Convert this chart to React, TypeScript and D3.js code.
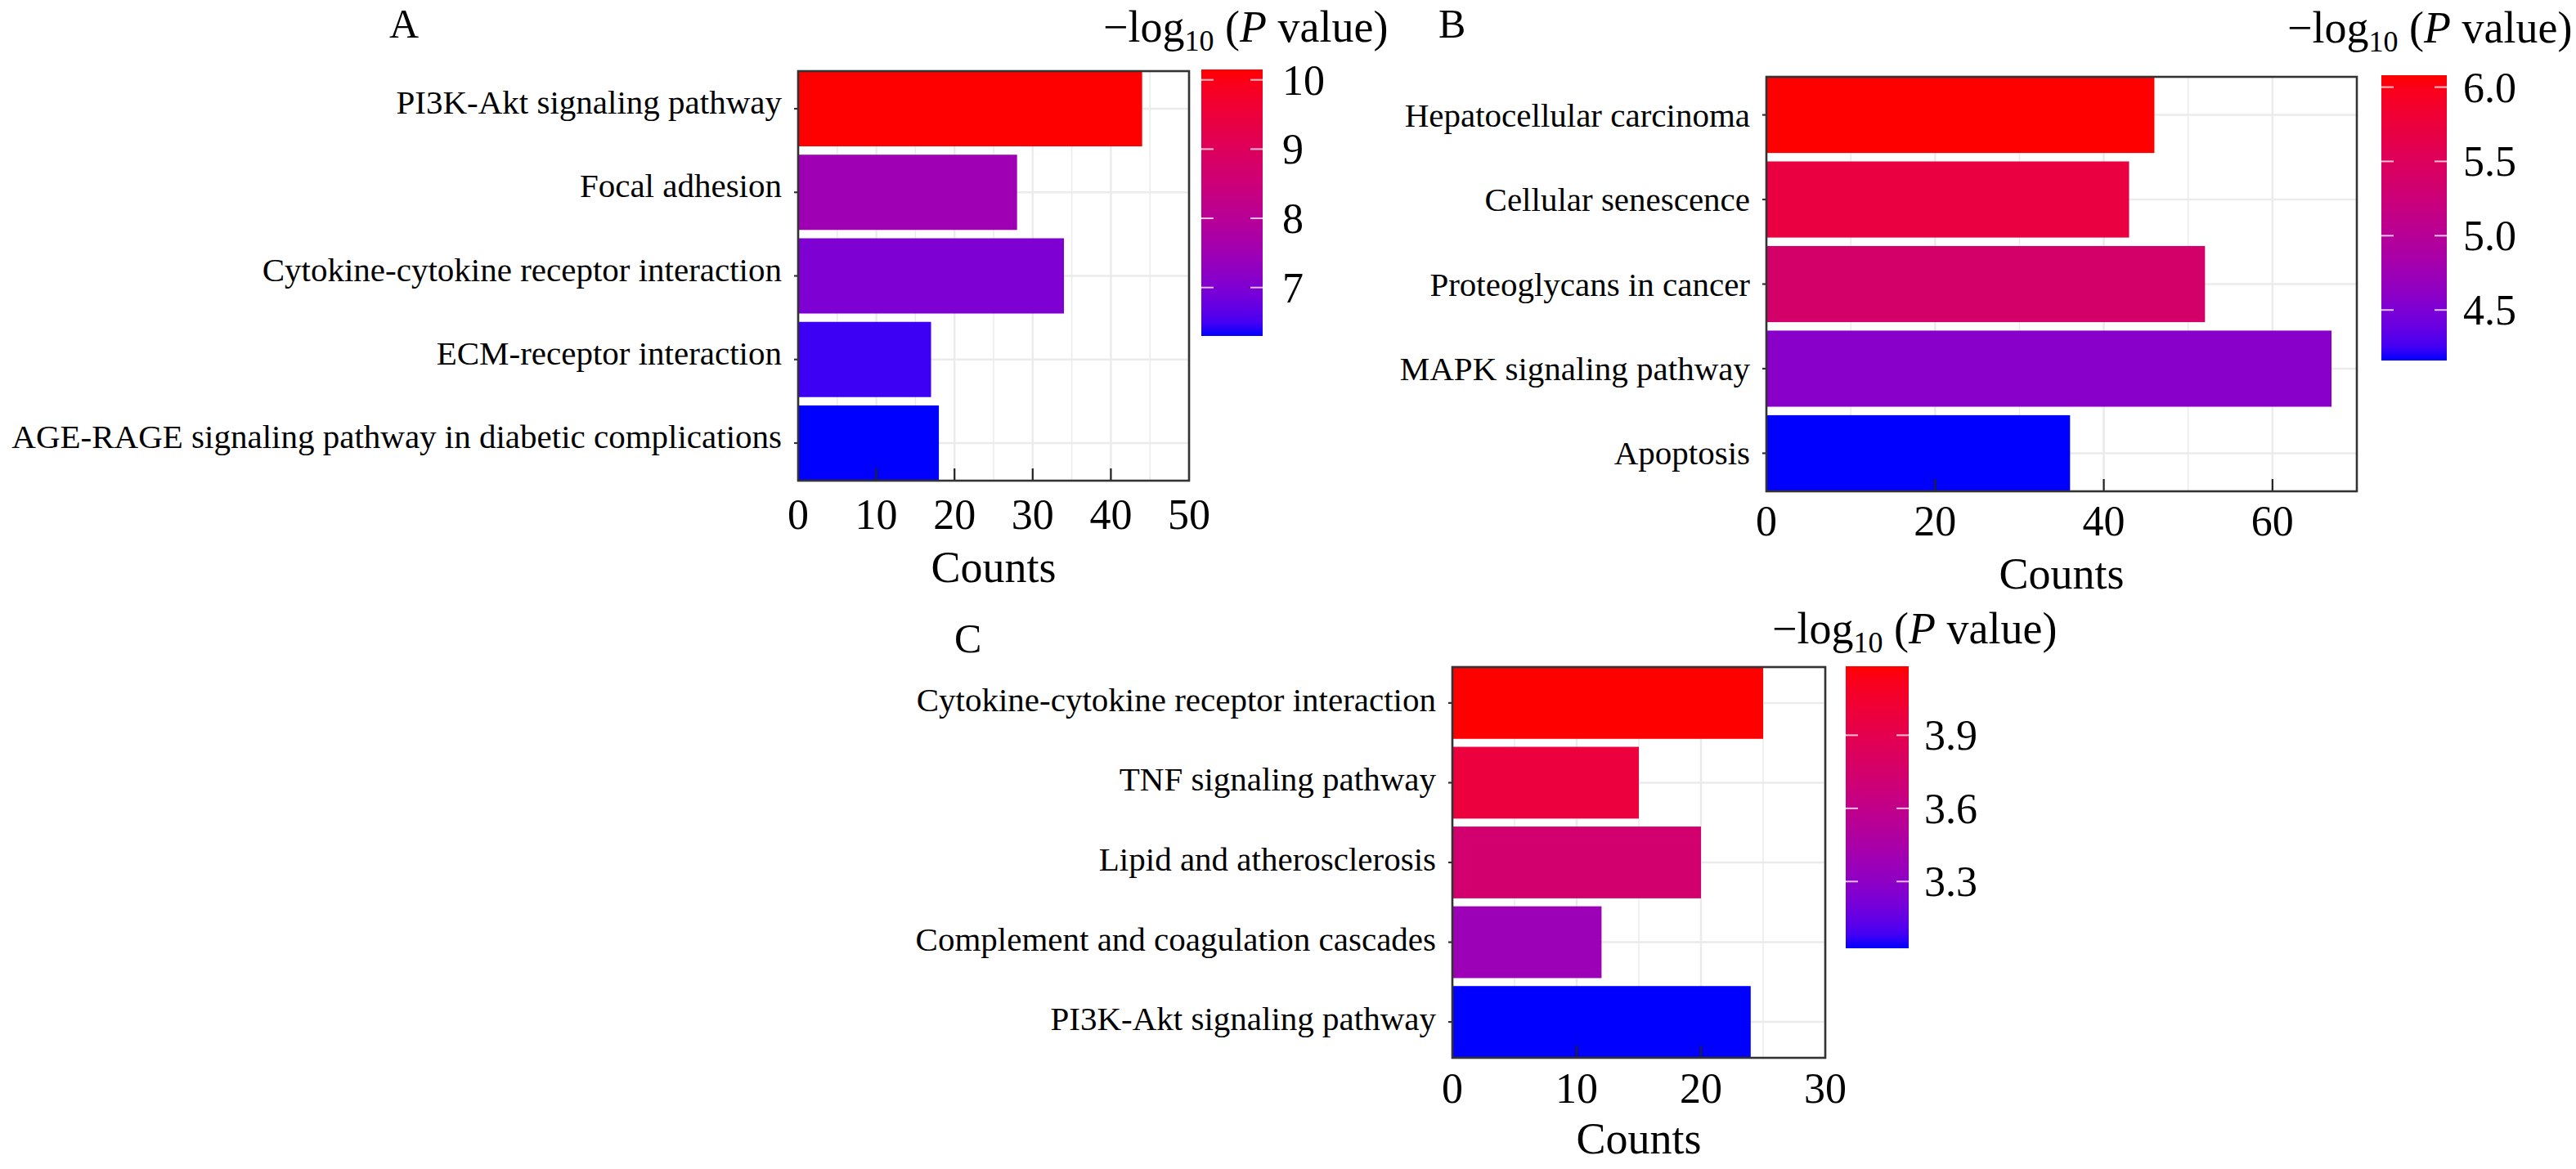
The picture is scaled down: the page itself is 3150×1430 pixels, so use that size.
import React from 'react';
import * as d3 from 'd3';

// Panel A
const catsA = [
  'PI3K-Akt signaling pathway',
  'Focal adhesion',
  'Cytokine-cytokine receptor interaction',
  'ECM-receptor interaction',
  'AGE-RAGE signaling pathway in diabetic complications',
];
const countsA = [44, 28, 34, 17, 18];
const logpA = [10.15, 7.5, 7.0, 6.45, 6.3];
const xTicksA = [0, 10, 20, 30, 40, 50];
const legendTicksA = [7, 8, 9, 10];

// Panel B
const catsB = [
  'Hepatocellular carcinoma',
  'Cellular senescence',
  'Proteoglycans in cancer',
  'MAPK signaling pathway',
  'Apoptosis',
];
const countsB = [46, 43, 52, 67, 36];
const logpB = [6.08, 5.72, 5.38, 4.58, 4.16];
const xTicksB = [0, 20, 40, 60];
const legendTicksB = [4.5, 5.0, 5.5, 6.0];

// Panel C
const catsC = [
  'Cytokine-cytokine receptor interaction',
  'TNF signaling pathway',
  'Lipid and atherosclerosis',
  'Complement and coagulation cascades',
  'PI3K-Akt signaling pathway',
];
const countsC = [25, 15, 20, 12, 24];
const logpC = [4.183, 3.98, 3.74, 3.37, 3.026];
const xTicksC = [0, 10, 20, 30];
const legendTicksC = [3.3, 3.6, 3.9];

const FONT = "'Liberation Serif', 'Times New Roman', serif";

interface Layout {
  id: string;
  letter: string;
  letterX: number;
  letterY: number;
  left: number;
  right: number;
  top: number;
  bottom: number;
  xMax: number;
  labelDy: number;
  tickBase: number;
  countsBase: number;
  lgX0: number;
  lgX1: number;
  lgY0: number;
  lgY1: number;
  lgLabelX: number;
  titleX: number;
  titleY: number;
  fmt: (v: number) => string;
}

interface PanelProps {
  layout: Layout;
  cats: string[];
  counts: number[];
  logp: number[];
  xTicks: number[];
  legendTicks: number[];
}

const Panel: React.FC<PanelProps> = ({ layout: L, cats, counts, logp, xTicks, legendTicks }) => {
  const x = d3.scaleLinear().domain([0, L.xMax]).range([L.left, L.right]);
  const y = d3.scaleBand<string>().domain(cats).range([L.top, L.bottom]).paddingInner(0.1).paddingOuter(0);
  const ext = d3.extent(logp) as [number, number];
  const color = d3.scaleLinear<string>().domain(ext).range(['blue', 'red']).interpolate(d3.interpolateLab);
  const ly = d3.scaleLinear().domain(ext).range([L.lgY1, L.lgY0]);

  const step = xTicks[1] - xTicks[0];
  const minor = xTicks.map((t) => t + step / 2).filter((t) => t < L.xMax);
  const stops = d3.range(0, 1.0001, 0.05);
  const gradId = `grad-${L.id}`;
  const mid = (c: string) => y(c)! + y.bandwidth() / 2;

  return (
    <g>
      <defs>
        <linearGradient id={gradId} x1="0" y1="1" x2="0" y2="0">
          {stops.map((s) => (
            <stop key={s} offset={s} stopColor={color(ext[0] + s * (ext[1] - ext[0]))} />
          ))}
        </linearGradient>
      </defs>

      {/* panel letter */}
      <text x={L.letterX} y={L.letterY} fontSize={50} fontFamily={FONT}>{L.letter}</text>

      {/* panel background + grid */}
      <rect x={L.left} y={L.top} width={L.right - L.left} height={L.bottom - L.top} fill="#fff" />
      {minor.map((t) => (
        <line key={`mn${t}`} x1={x(t)} x2={x(t)} y1={L.top} y2={L.bottom} stroke="#ebebeb" strokeWidth={1.5} />
      ))}
      {xTicks.map((t) => (
        <line key={`mj${t}`} x1={x(t)} x2={x(t)} y1={L.top} y2={L.bottom} stroke="#ebebeb" strokeWidth={2.5} />
      ))}
      {cats.map((c) => (
        <line key={`hg${c}`} x1={L.left} x2={L.right} y1={mid(c)} y2={mid(c)} stroke="#ebebeb" strokeWidth={2.5} />
      ))}

      {/* bars */}
      {cats.map((c, i) => (
        <rect key={`b${c}`} x={x(0)} y={y(c)} width={x(counts[i]) - x(0)} height={y.bandwidth()} fill={color(logp[i])} />
      ))}

      {/* x ticks (inside) */}
      {xTicks.filter((t) => t > 0 && t < L.xMax).map((t) => (
        <line key={`xt${t}`} x1={x(t)} x2={x(t)} y1={L.bottom} y2={L.bottom - 15} stroke="#222" strokeWidth={2.2} />
      ))}

      {/* y ticks */}
      {cats.map((c) => (
        <line key={`yt${c}`} x1={L.left - 5} x2={L.left} y1={mid(c)} y2={mid(c)} stroke="#333" strokeWidth={2.2} />
      ))}

      {/* border */}
      <rect x={L.left} y={L.top} width={L.right - L.left} height={L.bottom - L.top} fill="none" stroke="#333" strokeWidth={2.6} />

      {/* category labels */}
      {cats.map((c) => (
        <text key={`cl${c}`} x={L.left - 20} y={mid(c) + L.labelDy} textAnchor="end" fontSize={41} fontFamily={FONT} fill="#000">
          {c}
        </text>
      ))}

      {/* x tick labels */}
      {xTicks.map((t) => (
        <text key={`xl${t}`} x={x(t)} y={L.tickBase} textAnchor="middle" fontSize={52} fontFamily={FONT}>{t}</text>
      ))}
      <text x={(L.left + L.right) / 2} y={L.countsBase} textAnchor="middle" fontSize={54} fontFamily={FONT}>Counts</text>

      {/* colour bar legend */}
      <text x={L.titleX} y={L.titleY} fontSize={54} fontFamily={FONT} style={{ whiteSpace: 'pre' }}>
        <tspan>−log</tspan>
        <tspan fontSize={36} dy={11}>10</tspan>
        <tspan dy={-11}> (</tspan>
        <tspan fontStyle="italic">P</tspan>
        <tspan> value)</tspan>
      </text>
      <rect x={L.lgX0} y={L.lgY0} width={L.lgX1 - L.lgX0} height={L.lgY1 - L.lgY0} fill={`url(#${gradId})`} />
      {legendTicks.map((t) => (
        <g key={`lt${t}`}>
          <line x1={L.lgX0} x2={L.lgX0 + 15} y1={ly(t)} y2={ly(t)} stroke="#fff" strokeOpacity={0.75} strokeWidth={2} />
          <line x1={L.lgX1 - 15} x2={L.lgX1} y1={ly(t)} y2={ly(t)} stroke="#fff" strokeOpacity={0.75} strokeWidth={2} />
          <text x={L.lgLabelX} y={ly(t) + 18} fontSize={52} fontFamily={FONT}>{L.fmt(t)}</text>
        </g>
      ))}
    </g>
  );
};

const layoutA: Layout = {
  id: 'A', letter: 'A', letterX: 476, letterY: 46,
  left: 976, right: 1454, top: 87, bottom: 588, xMax: 50,
  labelDy: 6, tickBase: 647, countsBase: 712,
  lgX0: 1469, lgX1: 1544, lgY0: 85, lgY1: 411, lgLabelX: 1568,
  titleX: 1349, titleY: 51, fmt: (v) => d3.format('d')(v),
};
const layoutB: Layout = {
  id: 'B', letter: 'B', letterX: 1759, letterY: 46,
  left: 2160, right: 2882, top: 94, bottom: 601, xMax: 70,
  labelDy: 14, tickBase: 655, countsBase: 720,
  lgX0: 2912, lgX1: 2992, lgY0: 92, lgY1: 441, lgLabelX: 3012,
  titleX: 2797, titleY: 52, fmt: (v) => d3.format('.1f')(v),
};
const layoutC: Layout = {
  id: 'C', letter: 'C', letterX: 1167, letterY: 798,
  left: 1776, right: 2232, top: 816, bottom: 1294, xMax: 30,
  labelDy: 10, tickBase: 1349, countsBase: 1411,
  lgX0: 2257, lgX1: 2334, lgY0: 815, lgY1: 1160, lgLabelX: 2353,
  titleX: 2167, titleY: 787, fmt: (v) => d3.format('.1f')(v),
};

export default function App() {
  return (
    <svg
      width={3150}
      height={1430}
      viewBox="0 0 3150 1430"
      style={{ position: 'absolute', left: 0, top: 0, background: '#fff' }}
    >
      <rect width={3150} height={1430} fill="#fff" />
      <Panel layout={layoutA} cats={catsA} counts={countsA} logp={logpA} xTicks={xTicksA} legendTicks={legendTicksA} />
      <Panel layout={layoutB} cats={catsB} counts={countsB} logp={logpB} xTicks={xTicksB} legendTicks={legendTicksB} />
      <Panel layout={layoutC} cats={catsC} counts={countsC} logp={logpC} xTicks={xTicksC} legendTicks={legendTicksC} />
    </svg>
  );
}
